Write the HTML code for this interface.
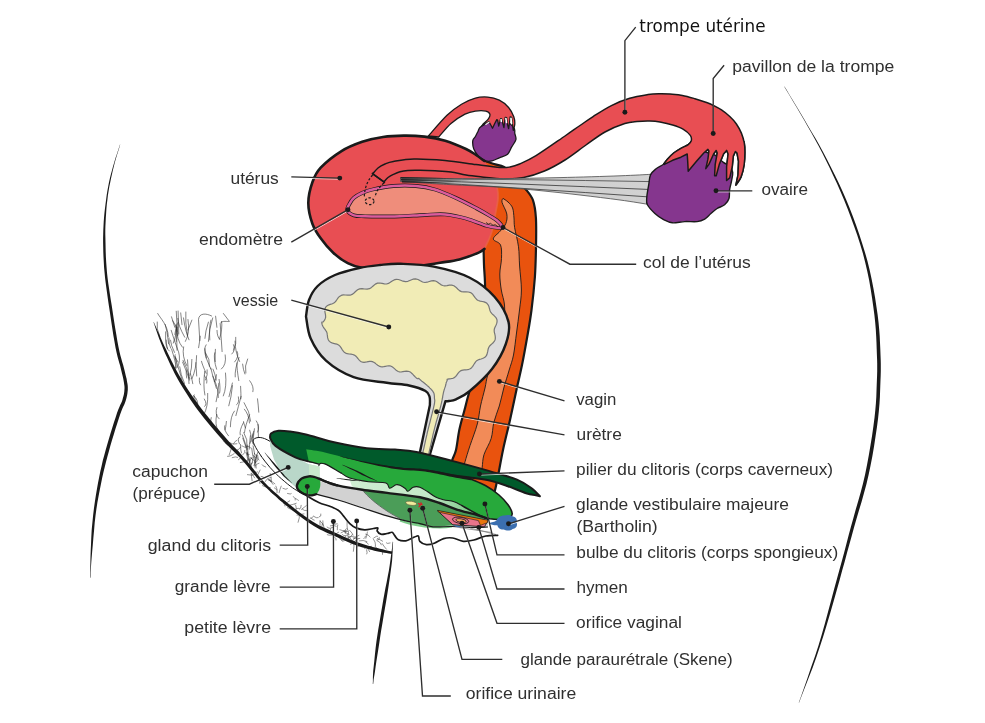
<!DOCTYPE html>
<html lang="fr"><head><meta charset="utf-8"><title>Anatomie</title>
<style>html,body{margin:0;padding:0;background:#fff}svg{display:block}</style></head>
<body><div style="will-change:transform;width:985px;height:723px"><svg width="985" height="723" viewBox="0 0 985 723">
<rect width="985" height="723" fill="#fff"/>
<path d="M120.0,144.6L119.2,146.9L118.2,150.1L116.9,154.0L115.5,158.1L114.2,162.4L113.0,166.4L112.0,170.3L110.9,174.2L109.9,178.2L109.0,182.3L108.2,186.4L107.4,190.7L106.7,195.1L106.1,199.7L105.5,204.3L104.9,209.0L104.4,213.5L104.0,217.9L103.7,222.1L103.5,226.1L103.3,230.0L103.2,234.0L103.1,238.1L103.1,242.5L103.2,247.2L103.3,252.1L103.5,257.2L103.8,262.4L104.1,267.7L104.6,273.0L105.1,278.3L105.8,283.7L106.5,289.1L107.3,294.7L108.1,300.5L109.0,306.5L110.0,313.1L111.1,320.4L112.2,327.8L113.3,335.1L114.5,341.8L115.5,347.6L116.5,352.3L117.5,356.4L118.4,359.8L119.3,362.9L120.1,365.6L120.8,368.4L121.4,371.0L122.0,373.4L122.5,375.6L123.0,377.6L123.4,379.5L123.7,381.3L124.0,383.0L124.2,384.5L124.4,385.8L124.5,387.1L124.5,388.4L124.4,389.9L124.3,391.4L124.1,393.0L123.8,394.7L123.4,396.3L122.9,398.1L122.4,400.0L121.8,401.7L121.1,403.3L120.2,405.1L119.3,407.2L118.2,409.8L117.0,413.1L115.6,417.4L113.9,422.4L112.2,427.9L110.4,433.7L108.7,439.5L107.1,445.0L105.6,450.3L104.2,455.5L102.8,460.6L101.6,465.9L100.3,471.4L99.2,477.1L98.0,483.1L96.9,489.3L95.8,495.7L94.8,502.2L93.9,508.8L93.1,515.5L92.4,522.4L91.7,529.8L91.3,537.3L91.0,544.6L90.7,551.2L90.5,557.0L90.4,561.9L90.3,566.2L90.3,569.9L90.3,573.1L90.3,575.7L90.3,577.7L90.7,577.7L90.8,575.7L90.8,573.1L90.9,569.9L91.0,566.2L91.3,561.9L91.7,557.0L92.2,551.3L92.8,544.7L93.4,537.5L94.1,530.0L94.7,522.7L95.5,515.7L96.4,509.1L97.4,502.6L98.6,496.1L99.8,489.8L101.0,483.7L102.2,477.7L103.5,472.1L104.8,466.7L106.1,461.5L107.5,456.3L108.9,451.2L110.3,446.0L111.9,440.5L113.7,434.7L115.4,428.9L117.2,423.4L118.8,418.5L120.2,414.3L121.4,411.0L122.4,408.5L123.3,406.5L124.2,404.7L124.9,403.0L125.6,401.0L126.2,399.0L126.7,397.1L127.1,395.3L127.4,393.5L127.6,391.8L127.8,390.1L127.8,388.5L127.8,387.0L127.7,385.5L127.5,384.0L127.2,382.4L126.9,380.7L126.6,378.8L126.1,376.9L125.6,374.9L125.1,372.7L124.5,370.3L123.8,367.6L123.1,364.8L122.2,362.0L121.4,359.0L120.4,355.6L119.5,351.7L118.5,347.0L117.4,341.3L116.3,334.6L115.1,327.4L113.9,319.9L112.8,312.7L111.8,306.1L110.8,300.1L109.9,294.3L109.1,288.8L108.3,283.4L107.6,278.1L107.0,272.8L106.6,267.5L106.2,262.3L105.9,257.1L105.7,252.0L105.6,247.2L105.5,242.5L105.4,238.1L105.3,234.0L105.3,230.1L105.4,226.2L105.6,222.2L105.8,218.1L106.1,213.7L106.4,209.1L106.8,204.5L107.4,199.8L107.9,195.3L108.6,190.9L109.3,186.7L110.2,182.5L111.0,178.4L111.9,174.4L112.8,170.5L113.8,166.6L114.8,162.5L116.0,158.3L117.3,154.1L118.5,150.2L119.5,147.0L120.2,144.6Z" fill="#1a1a1a"/>
<path d="M784.3,86.7L786.4,90.2L789.3,95.1L792.8,100.9L796.6,107.2L800.4,113.7L804.1,120.0L807.6,126.2L811.2,132.6L814.8,139.1L818.5,145.8L822.2,152.7L825.8,160.0L829.5,167.6L833.2,175.5L837.0,183.6L840.7,191.9L844.2,200.3L847.6,208.8L850.9,217.4L854.1,226.2L857.2,235.1L860.1,244.0L862.8,253.0L865.1,261.9L867.2,270.9L869.1,280.1L870.7,289.2L872.1,298.2L873.3,306.8L874.4,314.9L875.2,322.5L875.8,329.6L876.2,336.5L876.5,342.9L876.7,349.0L876.9,354.7L877.1,359.6L877.2,363.7L877.2,367.4L877.2,371.1L877.1,375.1L876.9,379.9L876.7,385.3L876.5,391.0L876.3,396.9L875.9,403.3L875.3,410.3L874.5,417.8L873.4,426.2L872.1,435.5L870.5,445.3L868.8,455.3L867.0,465.1L865.1,474.5L863.0,483.4L860.7,492.2L858.3,500.8L855.8,509.3L853.4,517.9L851.0,526.6L848.7,535.1L846.5,543.5L844.3,551.9L842.0,560.4L839.5,569.4L836.9,578.9L834.1,589.3L831.1,600.4L828.0,611.9L824.9,623.5L821.7,634.8L818.5,645.5L815.0,656.2L811.1,667.3L807.4,678.2L803.9,688.2L801.0,696.6L798.8,702.6L799.0,702.8L801.3,696.7L804.5,688.4L808.4,678.6L812.6,667.8L816.5,656.8L820.1,646.1L823.5,635.4L827.0,624.1L830.4,612.6L833.7,601.1L836.8,590.1L839.7,579.7L842.3,570.1L844.8,561.2L847.1,552.6L849.4,544.3L851.7,535.9L854.0,527.4L856.5,518.8L859.0,510.3L861.6,501.7L864.0,493.1L866.4,484.3L868.5,475.3L870.5,465.8L872.4,455.9L874.1,445.9L875.6,436.0L877.0,426.7L878.1,418.2L878.9,410.6L879.5,403.6L879.9,397.1L880.1,391.1L880.3,385.4L880.5,380.1L880.7,375.3L880.8,371.2L880.8,367.4L880.8,363.6L880.7,359.5L880.5,354.5L880.3,348.9L880.0,342.8L879.7,336.3L879.2,329.4L878.5,322.1L877.6,314.5L876.4,306.4L875.1,297.7L873.5,288.7L871.7,279.5L869.7,270.3L867.5,261.3L865.0,252.4L862.2,243.4L859.3,234.4L856.2,225.4L852.9,216.6L849.6,208.0L846.1,199.5L842.4,191.1L838.6,182.8L834.7,174.8L830.8,166.9L827.0,159.4L823.2,152.2L819.4,145.3L815.6,138.6L811.8,132.2L808.1,125.9L804.5,119.8L800.8,113.5L796.9,107.0L793.1,100.7L789.6,94.9L786.7,90.1L784.5,86.5Z" fill="#1a1a1a"/>
<path d="M186.7,378.0Q185.7,371.2 186.5,369.8M196.8,403.5Q195.0,401.6 194.3,395.8M177.0,350.2Q176.4,341.5 177.3,327.1M219.8,339.5Q217.1,336.9 217.0,330.4M206.2,358.1Q203.1,348.8 206.1,344.8M215.2,361.6Q215.0,354.3 215.4,349.3M250.0,443.4Q252.5,438.2 249.7,430.2M245.8,373.0Q244.3,366.0 247.6,359.0M204.9,338.4Q205.3,331.4 208.4,322.1M235.9,415.6Q238.3,406.9 241.1,396.3M208.4,341.4Q209.1,329.0 212.7,317.9M213.8,425.9Q209.4,423.4 211.2,417.6M178.2,351.0Q174.3,340.9 171.2,330.3M261.7,455.8Q260.3,453.8 260.8,447.1M250.4,466.1Q249.5,462.9 248.7,458.7M174.7,369.5Q177.9,364.0 174.7,356.2M236.6,404.7Q239.5,403.0 238.4,396.9M239.5,443.9Q236.6,437.9 239.9,437.0M178.0,362.0Q174.1,356.0 175.1,354.7M184.5,383.5Q180.4,374.2 179.7,366.8M189.0,383.6Q188.2,369.2 187.5,359.8M182.4,347.2Q176.3,339.7 176.8,326.9M204.5,406.4Q207.8,404.9 204.3,399.0M225.1,429.8Q226.0,427.2 226.4,421.4M191.9,378.8Q196.4,369.1 196.6,355.6M228.5,435.8Q223.3,429.5 224.7,425.7M221.4,369.0Q226.7,364.7 225.2,354.9M192.8,383.7Q192.5,381.1 190.4,373.6M247.3,449.8Q245.9,444.8 242.3,434.9M252.1,441.7Q251.5,439.6 253.3,433.8M256.1,468.1Q254.7,457.9 257.9,452.2M231.8,354.0Q236.0,350.3 233.5,344.7M214.5,381.7Q216.5,378.4 216.5,374.7M255.2,462.8Q251.7,454.2 251.7,448.2M209.5,366.4Q210.3,358.8 205.5,352.9M229.0,396.7Q230.7,390.0 232.4,383.0M197.8,405.8Q198.0,399.1 194.1,396.4M240.9,398.8Q241.1,394.3 240.6,386.3M198.6,347.7Q199.5,342.3 200.3,336.2M258.5,438.6Q258.3,432.7 258.0,424.5M223.3,395.9Q227.0,387.1 225.5,373.0M210.8,369.1Q205.1,358.5 204.8,348.7M173.3,343.1Q177.5,331.9 176.1,324.9M244.5,432.5Q245.1,426.3 249.6,414.6M216.4,388.4Q213.1,378.3 210.8,368.0M189.5,380.1Q186.4,370.8 182.6,362.1M177.9,335.5Q178.7,329.8 172.7,320.7M251.5,468.1Q250.3,463.2 252.3,462.8M252.9,391.7Q254.2,386.6 249.7,380.7M218.2,430.4Q214.5,425.0 216.7,414.4M250.6,421.2Q249.9,411.6 244.1,402.7M216.3,380.1Q214.8,373.0 213.0,369.1M170.7,348.2Q168.5,344.6 169.0,337.9M206.1,373.3Q202.1,364.4 201.5,361.3M240.2,434.9Q239.1,430.7 243.4,422.7M219.6,393.1Q220.7,389.1 219.1,379.4M238.8,380.6Q236.8,369.1 236.9,362.9M169.3,351.0Q164.9,347.6 166.3,340.1M254.6,454.0Q253.6,447.9 253.1,445.8M204.9,395.0Q203.0,386.0 204.7,371.4M196.7,376.0Q196.3,367.5 195.9,362.6M195.0,403.2Q191.3,396.1 194.1,394.7M189.8,375.3Q192.0,368.7 191.9,359.4M247.7,455.2Q246.8,447.6 242.8,438.2M219.5,339.1Q222.7,328.2 221.6,321.5M228.8,405.8Q231.2,398.0 232.5,385.6M245.4,427.9Q243.5,422.4 243.5,421.6M249.3,449.2Q249.8,439.4 250.4,435.7M253.0,443.9Q250.4,439.0 253.8,431.2M176.2,368.1Q175.6,361.5 171.6,349.2M216.1,401.7Q218.3,393.3 218.8,383.2M168.6,343.8Q167.4,331.2 165.2,324.4M176.2,341.4Q175.5,332.2 177.7,322.7M218.3,397.6Q219.0,389.4 212.9,376.1M187.5,335.4Q185.0,322.0 185.8,312.0M251.3,464.4Q254.4,458.9 251.2,457.8M247.0,447.0Q248.2,439.7 243.8,432.6M159.8,336.5Q156.0,328.3 157.2,322.0M235.2,376.9Q234.5,369.8 239.0,357.5M257.6,432.1Q260.4,427.0 256.3,420.9M206.7,383.1Q207.8,378.1 204.3,375.7M250.0,463.0Q247.8,460.4 247.3,452.2M260.8,455.9Q263.3,449.2 265.1,439.8M209.8,339.9Q208.9,327.3 210.9,320.1M247.7,461.8Q248.6,460.2 246.1,452.8M216.6,369.2Q213.3,358.9 214.7,352.8M234.7,361.9Q239.4,356.4 237.2,351.5M174.5,352.4Q170.7,344.9 170.5,340.2M258.8,412.2Q258.3,404.7 257.5,398.8M182.1,380.0Q178.8,369.6 175.3,357.6M241.4,452.9Q240.6,451.5 240.5,444.5M259.1,451.0Q262.2,448.0 259.7,445.3M203.8,414.6Q208.3,406.9 207.7,393.4M177.3,367.5Q181.1,361.0 178.6,351.7M249.5,423.0Q248.9,414.5 244.4,409.2M257.3,460.9Q257.6,458.8 256.0,454.4M167.5,348.6Q164.6,340.8 165.6,331.8M174.9,334.5Q178.3,322.7 176.3,311.2M186.8,365.6Q181.8,356.3 183.6,346.9M230.4,426.8Q230.5,416.1 234.4,411.1M205.5,380.0Q208.0,374.9 207.2,369.8M239.6,361.5Q235.3,352.9 235.0,341.1M244.9,374.0Q243.2,370.0 242.6,364.1M250.1,464.9Q248.6,458.6 252.2,457.7M185.4,341.4Q190.2,333.0 188.0,319.5M189.9,378.8Q187.6,368.8 183.0,360.3M200.7,385.0Q199.0,384.2 199.4,378.0M233.5,350.2Q236.9,343.4 235.8,337.3M189.0,339.8Q185.3,331.3 183.5,317.9M184.7,337.2Q178.0,325.2 177.8,318.4M250.1,460.9Q247.3,455.7 247.7,445.0M219.1,418.8Q214.5,414.7 216.9,407.5M258.8,460.4Q258.0,460.5 257.6,455.2M254.1,465.6Q256.9,458.7 253.6,455.6M253.8,444.6Q252.9,435.6 254.4,428.7" fill="none" stroke="#222" stroke-width="0.7" stroke-linecap="round" opacity="0.8"/>
<path d="M157.7,313.5C160,318 168,325 168.3,336.5M171.5,316.8L174.8,327.3M178.1,311L178.8,334M180.7,312.9L182,324.7M191.9,320.1L188,330M199.8,340.5L198.5,319.5C199,313 206,313 211.6,316M215.6,316.2L216.9,327.3M222.1,351.6L220.2,323.4C222,320 228,322 229.4,321.4L223.4,313.5" fill="none" stroke="#222" stroke-width="0.7" stroke-linecap="round" opacity="0.8"/>
<path d="M336.2,526.2Q332.8,524.6 330.3,525.8M344.2,540.9Q342.0,542.3 341.2,539.8M262.0,464.8Q262.2,465.9 265.7,467.0M353.9,543.3Q353.7,542.7 350.4,544.2M376.9,540.5Q380.5,541.9 381.5,544.9M382.7,550.2Q382.4,551.0 382.5,554.4M294.2,511.1Q290.2,508.9 287.6,507.6M299.7,509.1Q301.1,509.2 301.2,505.3M251.2,473.4Q251.4,476.5 252.1,480.7M312.4,522.9Q312.4,520.7 309.8,521.0M247.3,460.3Q242.8,462.5 240.3,462.6M227.7,445.1Q224.4,442.5 223.4,441.0M262.5,485.7Q267.3,488.3 270.3,487.6M236.8,440.2Q235.6,440.3 233.4,443.8M242.0,445.9Q243.0,446.6 247.3,448.1M378.4,550.8Q376.3,547.6 375.1,546.2M313.4,516.2Q316.8,518.6 318.2,517.8M348.0,537.2Q351.2,535.9 355.4,537.0M343.1,538.2Q344.1,538.6 345.6,536.5M345.3,533.5Q344.2,529.3 346.0,528.7M268.5,479.8Q272.2,481.3 274.9,483.8M367.2,547.7Q367.1,548.0 369.6,551.7M340.9,532.8Q343.2,530.6 347.8,531.4M245.6,446.0Q249.9,446.4 250.7,447.7M273.1,484.4Q270.9,480.6 267.8,479.3M359.6,545.2Q358.0,546.0 356.3,547.6M256.9,477.2Q257.3,475.2 260.1,470.0M240.7,447.1Q238.8,450.0 237.2,450.1M320.1,520.7Q319.6,522.4 320.1,525.2M368.2,544.1Q367.0,542.0 365.9,542.0M359.0,535.3Q354.4,536.8 353.3,539.5M332.4,535.1Q328.0,535.5 327.2,534.8M255.2,457.8Q253.1,456.6 254.4,453.3M339.8,529.8Q341.5,530.8 346.7,530.9M255.3,474.3Q253.2,476.1 247.4,474.7M275.9,486.1Q277.9,489.8 277.1,492.6M299.3,515.0Q300.0,517.2 298.1,522.3M370.2,537.0Q368.4,534.5 365.7,534.1M334.2,536.7Q337.0,539.1 336.3,540.1M337.0,536.0Q339.8,538.8 342.2,540.6M337.3,523.9Q335.4,525.1 332.0,523.2M306.3,505.6Q305.1,506.6 301.5,509.4M337.3,529.8Q337.3,526.1 337.7,525.0M240.6,454.5Q241.5,458.6 238.6,459.7M322.8,520.8Q322.6,524.7 324.0,527.5M348.6,536.0Q350.0,539.3 353.6,541.5M231.0,449.5Q230.1,452.4 229.1,455.0M347.2,534.2Q348.5,537.0 348.9,539.9M259.9,483.5Q258.8,478.4 258.0,476.7M270.8,477.6Q267.0,477.6 265.2,481.6M382.6,541.2Q380.3,539.8 377.3,538.4M365.6,546.1Q369.3,546.8 372.8,548.2M294.2,511.0Q297.6,514.0 300.2,515.7M281.2,500.8Q279.7,500.1 278.1,498.3M276.8,490.2Q277.6,490.0 274.4,487.9M363.8,538.7Q365.6,537.3 365.5,536.2M354.0,543.3Q354.2,545.8 353.4,551.3M306.4,510.6Q304.1,511.0 302.4,509.2M373.8,537.9Q377.4,535.3 377.8,536.0M366.6,549.8Q367.7,553.7 366.9,554.1M321.6,528.7Q319.2,528.7 317.7,525.8M375.6,545.6Q375.8,542.0 373.3,538.8M295.2,504.5Q296.3,505.0 296.3,508.9M270.8,491.7Q273.8,492.1 273.3,493.7M269.1,479.3Q270.7,478.6 271.1,481.7M249.1,454.6Q247.1,454.9 246.3,452.8M377.0,539.9Q379.8,540.5 379.3,537.5M253.8,471.3Q257.6,473.3 257.8,472.1M256.2,461.2Q253.9,462.6 254.8,467.2M285.2,501.4Q284.4,505.4 284.8,506.0M244.9,450.4Q245.7,452.6 242.8,454.8M313.0,516.8Q311.4,518.7 310.3,518.4M330.1,528.4Q329.5,529.0 327.1,527.1M386.3,543.0Q387.0,544.1 390.1,543.0M237.7,457.3Q236.1,456.2 232.2,457.6M366.9,541.5Q363.4,539.8 359.2,540.8M293.4,496.5Q296.2,499.3 295.5,500.1M365.9,538.3Q367.1,534.6 367.4,532.0M347.3,529.0Q346.9,525.9 347.1,521.6M335.2,534.6Q336.9,532.8 338.7,532.1M298.5,500.4Q297.7,499.8 295.5,498.4M237.5,450.3Q240.2,452.8 240.1,454.1M321.5,529.0Q322.2,525.0 322.3,523.9M359.8,538.5Q355.7,539.4 353.4,538.2M271.5,481.3Q271.3,476.8 270.2,473.5M295.7,509.2Q298.5,507.3 299.6,508.6M253.3,471.7Q253.6,472.4 255.5,474.7M307.2,520.0Q308.5,521.5 312.1,523.9M234.2,453.6Q229.7,456.9 227.5,456.4M314.2,520.2Q312.3,520.0 311.2,517.9M353.1,535.1Q352.7,533.4 349.6,530.3M296.2,503.3Q292.5,504.7 290.2,505.1M259.0,463.1Q258.1,463.0 255.5,465.6M350.2,537.1Q351.2,536.6 352.2,534.7M282.9,488.4Q286.5,490.2 287.5,488.7M251.6,473.1Q254.2,477.3 254.6,477.9M371.5,546.3Q366.9,547.2 364.6,548.3M236.9,443.8Q233.0,445.1 229.8,442.8M291.4,493.8Q291.1,494.6 287.5,493.5M333.2,527.2Q329.9,526.9 330.1,530.0M349.2,534.5Q344.9,532.1 343.7,531.4M347.4,528.9Q349.2,531.2 348.5,534.4M286.6,504.9Q291.3,505.3 293.6,508.1M382.1,543.5Q384.9,547.7 386.4,549.2M346.5,535.7Q342.9,536.4 342.3,534.4M334.0,525.3Q334.2,525.2 332.9,521.3M279.1,492.8Q279.6,490.0 281.2,486.1M323.4,525.1Q322.4,522.6 320.1,521.2M319.3,516.9Q321.7,516.6 320.9,514.0M265.2,478.6Q263.8,476.3 261.1,476.3M250.3,457.7Q250.6,457.9 253.7,460.2M354.8,541.1Q357.5,538.7 357.9,538.9M254.5,462.5Q256.7,457.7 256.2,455.3M289.8,500.9Q288.3,502.4 283.6,503.4M304.0,513.9Q300.7,514.4 297.0,515.1" fill="none" stroke="#222" stroke-width="0.65" stroke-linecap="round" opacity="0.75"/>
<path d="M153.5,322.5L154.3,324.6L155.3,327.4L156.4,330.8L157.7,334.5L159.1,338.5L160.7,342.5L162.3,346.5L163.8,350.3L165.4,353.9L167.1,357.6L168.9,361.4L170.6,365.2L172.5,369.0L174.4,372.9L176.4,376.7L178.5,380.5L180.7,384.3L183.0,388.1L185.4,391.8L187.8,395.6L190.3,399.4L192.9,403.2L195.5,407.0L198.3,410.7L201.2,414.6L204.3,418.5L207.6,422.5L210.9,426.4L214.1,430.3L217.3,434.0L220.4,437.5L223.3,440.8L225.9,443.7L228.5,446.3L230.9,448.8L233.2,451.0L235.4,453.2L237.7,455.5L240.0,457.8L242.4,460.4L244.9,463.2L247.4,466.2L249.8,469.3L252.4,472.4L255.0,475.6L257.7,478.8L260.4,481.9L263.3,484.9L266.3,487.8L269.4,490.8L272.5,493.7L275.8,496.6L279.0,499.4L282.3,502.2L285.5,504.9L288.7,507.5L291.9,510.0L295.1,512.5L298.3,515.0L301.5,517.4L304.6,519.7L307.7,521.9L310.8,524.0L313.9,526.0L316.9,527.8L319.9,529.4L322.8,530.8L325.7,532.2L328.5,533.4L331.3,534.6L334.0,535.8L336.6,536.9L339.1,538.1L341.6,539.2L343.9,540.3L346.2,541.3L348.5,542.3L350.8,543.2L353.1,544.2L355.4,545.0L357.8,545.9L360.2,546.7L362.6,547.4L365.0,548.1L367.3,548.8L369.7,549.4L372.0,550.1L374.3,550.7L376.7,551.2L379.2,551.8L381.8,552.2L384.3,552.7L386.6,553.1L388.7,553.5L390.5,553.8L391.8,554.1L392.4,551.5L391.0,551.2L389.3,550.9L387.2,550.4L384.9,549.9L382.4,549.3L379.9,548.7L377.4,548.1L375.1,547.5L372.8,547.0L370.5,546.3L368.2,545.7L365.9,545.0L363.5,544.3L361.2,543.6L358.9,542.8L356.6,542.0L354.3,541.1L352.0,540.2L349.8,539.2L347.6,538.3L345.3,537.2L342.9,536.2L340.5,535.0L338.0,533.9L335.4,532.7L332.7,531.5L329.9,530.3L327.1,529.1L324.3,527.8L321.4,526.4L318.5,524.9L315.5,523.2L312.5,521.4L309.5,519.4L306.4,517.3L303.2,515.0L300.0,512.7L296.8,510.3L293.6,507.8L290.5,505.3L287.3,502.7L284.0,500.1L280.7,497.4L277.5,494.6L274.2,491.8L271.1,488.9L268.0,486.0L265.1,483.1L262.3,480.1L259.7,477.0L257.1,473.8L254.6,470.6L252.2,467.5L249.7,464.3L247.2,461.3L244.8,458.4L242.4,455.7L240.1,453.2L237.9,450.8L235.7,448.5L233.4,446.2L231.1,443.8L228.7,441.2L226.1,438.2L223.3,435.0L220.2,431.5L217.0,427.8L213.8,424.0L210.5,420.0L207.3,416.1L204.2,412.2L201.3,408.5L198.5,404.8L195.8,401.1L193.2,397.4L190.7,393.7L188.2,390.0L185.8,386.3L183.5,382.6L181.3,378.9L179.1,375.2L177.0,371.5L175.0,367.7L173.1,364.0L171.2,360.3L169.4,356.6L167.7,352.9L166.0,349.3L164.2,345.7L162.4,341.8L160.7,337.8L159.1,334.0L157.4,330.4L156.0,327.1L154.8,324.4L153.9,322.3Z" fill="#1a1a1a"/>
<path d="M392.7,541.8L392.4,544.2L392.1,547.4L391.6,551.3L391.0,555.7L390.4,560.3L389.7,565.2L388.9,570.4L387.8,576.0L386.7,582.0L385.4,588.2L384.3,594.3L383.2,600.3L382.2,606.2L381.2,612.1L380.2,618.0L379.2,623.9L378.2,629.8L377.3,635.7L376.4,641.8L375.6,648.3L374.9,654.8L374.3,661.0L373.7,666.5L373.2,671.1L373.0,674.7L372.9,677.6L372.9,679.8L372.9,681.5L372.8,682.9L372.8,684.0L373.2,684.0L373.3,682.9L373.5,681.5L373.6,679.8L373.9,677.7L374.4,674.9L375.0,671.3L375.6,666.7L376.4,661.2L377.4,655.1L378.4,648.7L379.4,642.3L380.3,636.1L381.2,630.3L382.2,624.4L383.2,618.5L384.2,612.6L385.2,606.7L386.2,600.9L387.2,594.8L388.2,588.6L389.1,582.4L390.0,576.4L390.8,570.6L391.5,565.4L392.1,560.5L392.4,555.8L392.6,551.4L392.8,547.5L393.0,544.2L393.1,541.8Z" fill="#1a1a1a"/>
<path d="M484.0,160.8C485.7,161.3 490.7,163.0 494.0,164.0C497.3,165.0 501.0,165.3 504.0,167.0C507.0,168.7 509.2,171.1 512.0,174.0C514.8,176.9 518.7,182.0 521.0,184.5C523.3,187.0 523.6,186.4 525.6,189.0C527.6,191.6 531.3,195.5 533.0,200.3C534.7,205.1 535.4,210.1 535.9,217.8C536.4,225.6 536.2,236.9 536.0,246.8C535.8,256.7 535.6,266.5 534.9,277.0C534.1,287.5 532.7,300.7 531.5,310.0C530.3,319.3 529.5,323.8 527.9,333.0C526.3,342.2 523.9,355.8 522.0,365.0C520.1,374.2 518.8,379.1 516.8,388.3C514.8,397.5 512.3,409.7 510.0,420.0C507.7,430.3 505.5,438.3 503.0,450.0C500.5,461.7 497.2,482.0 495.0,490.3C492.8,498.6 490.8,498.4 490.0,500.0L450,470C450.4,468.4 451.2,463.5 452.2,460.2C453.2,456.9 454.8,455.0 456.0,450.0C457.2,445.0 457.9,436.7 459.3,430.0C460.7,423.3 462.8,416.5 464.5,410.0C466.2,403.5 467.5,397.7 469.6,391.0C471.7,384.3 474.8,378.5 477.0,370.0C479.2,361.5 481.7,350.0 483.0,340.0C484.3,330.0 484.7,319.5 485.0,310.0C485.3,300.5 485.2,290.5 485.0,283.0C484.8,275.5 484.2,270.5 484.0,265.0C483.8,259.5 483.8,257.5 483.6,250.0C483.4,242.5 483.1,230.0 483.0,220.0C482.9,210.0 482.8,199.9 483.0,190.0C483.2,180.1 483.8,165.7 484.0,160.8Z" fill="#e9530e" stroke="#1a1a1a" stroke-width="2.2" stroke-linejoin="round"/>
<path d="M503.0,198.4C502.8,199.1 501.4,199.7 502.0,202.3C502.6,204.9 506.2,210.4 506.8,214.0C507.4,217.6 506.9,220.7 505.8,223.6C504.7,226.5 502.1,228.7 500.0,231.3C497.9,233.9 493.2,236.7 493.3,239.0C493.4,241.3 499.1,241.7 500.5,244.9C501.9,248.1 501.6,253.5 501.5,258.4C501.4,263.2 499.8,268.7 499.8,274.0C499.8,279.3 500.5,284.8 501.3,290.0C502.1,295.2 504.1,299.7 504.5,305.0C504.9,310.3 504.9,316.2 504.0,322.0C503.1,327.8 500.7,334.2 499.0,340.0C497.3,345.8 495.9,351.1 494.0,357.0C492.1,362.9 489.1,370.2 487.6,375.4C486.1,380.6 486.2,382.9 485.0,388.0C483.8,393.1 481.8,400.0 480.5,406.0C479.2,412.0 479.1,417.4 477.3,424.0C475.6,430.6 472.1,439.3 470.0,445.6C467.9,451.9 466.2,457.7 465.0,461.8C463.8,465.9 463.3,468.6 463.0,470.0L481,474C481.2,472.9 481.7,470.4 482.2,467.2C482.7,464.0 482.5,459.4 484.0,454.6C485.5,449.8 489.6,443.8 491.2,438.4C492.8,433.0 492.5,427.6 493.9,422.2C495.2,416.8 497.6,411.7 499.3,406.0C501.0,400.3 502.2,394.0 503.8,388.0C505.4,382.0 507.6,375.5 509.2,370.0C510.8,364.5 512.3,361.2 513.5,355.0C514.7,348.8 515.5,340.5 516.5,333.0C517.5,325.5 518.7,317.2 519.5,310.0C520.3,302.8 521.4,297.3 521.4,290.0C521.4,282.7 520.1,273.2 519.6,266.0C519.1,258.8 519.3,253.2 518.5,246.8C517.7,240.4 515.4,232.3 514.6,227.5C513.9,222.7 514.3,221.2 514.0,218.0C513.7,214.8 513.6,210.7 512.6,208.0C511.6,205.3 509.6,203.6 508.0,202.0C506.4,200.4 503.8,199.0 503.0,198.4Z" fill="#f28b58" stroke="#1a1a1a" stroke-width="0.9" stroke-linejoin="round"/>
<path d="M481.6,126.1C477.9,128.3 479.0,129.8 478.0,131.5C477.0,133.2 476.3,135.0 475.4,136.5C474.5,138.0 473.1,138.6 472.8,140.7C472.5,142.8 472.9,146.4 473.8,149.0C474.8,151.6 476.5,154.2 478.5,156.2C480.5,158.2 483.6,160.1 485.8,160.9C488.1,161.7 489.8,161.4 492.0,160.9C494.2,160.4 496.7,158.9 499.3,157.8C501.9,156.7 505.5,156.0 507.6,154.2C509.7,152.4 510.3,149.3 511.7,146.9C513.1,144.5 515.4,141.8 515.9,139.6C516.4,137.3 515.2,135.5 514.8,133.4C514.4,131.3 515.8,129.6 513.3,127.0C510.8,124.4 505.3,118.2 500.0,118.0C494.7,117.8 485.3,123.8 481.6,126.1Z" fill="#85368e" stroke="#1a1a1a" stroke-width="1.3"/>
<path d="M428.3,136.0C431.4,132.6 441.5,120.6 447.0,115.3C452.5,110.0 456.8,107.2 461.5,104.3C466.2,101.4 471.0,99.3 475.4,98.1C479.8,96.9 483.8,96.8 487.8,97.1C491.8,97.4 495.8,98.5 499.3,100.2C502.8,101.9 506.2,104.7 508.6,107.5C511.0,110.3 512.8,114.0 513.8,116.8C514.8,119.6 514.9,121.8 514.8,124.1C514.7,126.3 513.5,129.3 513.3,130.3L512.4,124.0L511.6,117.4L510.2,116.8L509.6,122.0L508.6,128.7L507.4,124.0L506.6,117.6L505.2,117.3L504.6,122.0L503.9,127.7L502.4,122.0L501.6,118.6L500.6,118.6L499.8,122.0L498.7,126.1L497.6,120.0L496.8,119.6L494.5,124.0L492.5,128.2L490.8,125.0L488.9,121.5L485.0,124.0L481.6,126.1C482.0,125.7 482.6,124.7 483.7,123.5C484.8,122.3 487.4,120.5 488.4,118.9C489.4,117.4 490.3,115.5 489.9,114.2C489.5,112.9 488.2,111.6 485.8,111.1C483.4,110.6 478.9,110.6 475.4,111.1C471.9,111.6 469.1,112.1 465.0,114.2C460.9,116.3 455.4,119.7 451.0,123.5C446.6,127.3 440.8,134.8 438.7,137.0Z" fill="#e84e53" stroke="#1a1a1a" stroke-width="1.3" stroke-linejoin="round"/>
<path d="M511,118.2L511.6,123.6M505.9,118.4L506.5,122.6M501.1,119.4L501.3,121.4" fill="none" stroke="#fff" stroke-width="1.5" stroke-linecap="round"/>
<path d="M485.8,124.4L489,122.2" fill="none" stroke="#eee" stroke-width="1.2" stroke-linecap="round"/>
<path d="M484.5,248.8C483.5,249.4 482.9,250.8 478.7,252.6C474.5,254.4 465.8,257.7 459.4,259.4C452.9,261.1 446.6,261.7 440.0,262.8C433.4,263.9 427.2,264.9 420.0,265.8C412.8,266.7 403.7,267.5 397.0,268.0C390.3,268.5 385.8,268.6 380.0,268.6C374.2,268.6 367.4,268.7 362.0,267.8C356.6,266.9 352.5,265.7 347.7,263.2C342.9,260.7 337.7,256.9 333.2,252.8C328.7,248.7 324.2,243.2 320.7,238.3C317.2,233.5 314.5,229.6 312.4,223.7C310.3,217.8 308.3,209.9 308.3,203.0C308.3,196.1 310.3,188.1 312.4,182.2C314.5,176.3 315.8,172.9 320.7,167.7C325.6,162.5 334.6,155.4 341.5,151.1C348.4,146.8 355.3,144.2 362.2,141.8C369.1,139.5 376.1,138.0 383.0,137.0C389.9,136.0 396.8,135.7 403.7,135.6C410.6,135.5 417.6,135.8 424.5,136.6C431.4,137.4 438.3,138.6 445.2,140.7C452.1,142.8 460.9,146.6 466.0,149.0C471.1,151.4 472.9,153.0 476.0,155.0C479.1,157.0 482.9,160.0 484.3,161.0C485.6,162.8 489.9,167.7 492.0,172.0C494.1,176.3 496.0,182.4 497.0,186.8C498.0,191.2 498.3,193.6 498.0,198.4C497.7,203.2 496.1,210.0 495.0,215.8C493.9,221.6 493.1,227.8 491.3,233.3C489.6,238.8 485.6,246.2 484.5,248.8Z" fill="#e84e53"/>
<path d="M492.0,172.0C492.8,174.5 496.0,182.4 497.0,186.8C498.0,191.2 498.3,193.6 498.0,198.4C497.7,203.2 496.1,210.0 495.0,215.8C493.9,221.6 493.1,227.8 491.3,233.3C489.6,238.8 485.6,246.2 484.5,248.8" fill="none" stroke="#ea6448" stroke-width="1.8" opacity="0.75"/>
<path d="M484.5,248.8C483.5,249.4 482.9,250.8 478.7,252.6C474.5,254.4 465.8,257.7 459.4,259.4C452.9,261.1 446.6,261.7 440.0,262.8C433.4,263.9 427.2,264.9 420.0,265.8C412.8,266.7 403.7,267.5 397.0,268.0C390.3,268.5 385.8,268.6 380.0,268.6C374.2,268.6 367.4,268.7 362.0,267.8C356.6,266.9 352.5,265.7 347.7,263.2C342.9,260.7 337.7,256.9 333.2,252.8C328.7,248.7 324.2,243.2 320.7,238.3C317.2,233.5 314.5,229.6 312.4,223.7C310.3,217.8 308.3,209.9 308.3,203.0C308.3,196.1 310.3,188.1 312.4,182.2C314.5,176.3 315.8,172.9 320.7,167.7C325.6,162.5 334.6,155.4 341.5,151.1C348.4,146.8 355.3,144.2 362.2,141.8C369.1,139.5 376.1,138.0 383.0,137.0C389.9,136.0 396.8,135.7 403.7,135.6C410.6,135.5 417.6,135.8 424.5,136.6C431.4,137.4 438.3,138.6 445.2,140.7C452.1,142.8 460.9,146.6 466.0,149.0C471.1,151.4 472.9,153.0 476.0,155.0C479.1,157.0 482.9,160.0 484.3,161.0" fill="none" stroke="#1a1a1a" stroke-width="2.6" stroke-linecap="round"/>
<path d="M347.3,210.2C346.6,208.1 348.9,205.1 350.0,203.0C351.1,200.9 352.0,199.5 354.0,197.8C356.0,196.1 358.9,194.4 362.0,193.0C365.1,191.6 367.4,190.7 372.6,189.5C377.8,188.3 386.2,186.6 393.4,186.0C400.6,185.4 409.1,185.4 416.0,186.0C422.9,186.6 428.3,187.5 434.9,189.5C441.5,191.5 448.7,194.7 455.6,197.8C462.5,200.9 470.6,205.2 476.3,208.2C482.0,211.2 486.6,213.9 490.0,216.0C493.4,218.1 495.0,218.8 497.0,220.5C499.0,222.2 501.7,225.3 502.0,226.5C502.3,227.7 501.6,228.0 499.0,227.9C496.4,227.8 492.2,227.4 486.7,225.8C481.2,224.2 472.9,220.4 466.0,218.5C459.1,216.6 451.9,215.0 445.0,214.4C438.1,213.8 432.0,214.7 424.5,215.0C417.0,215.3 406.9,216.1 400.0,216.3C393.1,216.6 388.8,216.5 383.0,216.5C377.2,216.5 369.8,216.5 365.0,216.3C360.2,216.1 356.9,216.4 354.0,215.4C351.1,214.4 348.0,212.3 347.3,210.2Z" fill="#ef8d7b" stroke="#1a1a1a" stroke-width="3.8"/>
<path d="M347.3,210.2C346.6,208.1 348.9,205.1 350.0,203.0C351.1,200.9 352.0,199.5 354.0,197.8C356.0,196.1 358.9,194.4 362.0,193.0C365.1,191.6 367.4,190.7 372.6,189.5C377.8,188.3 386.2,186.6 393.4,186.0C400.6,185.4 409.1,185.4 416.0,186.0C422.9,186.6 428.3,187.5 434.9,189.5C441.5,191.5 448.7,194.7 455.6,197.8C462.5,200.9 470.6,205.2 476.3,208.2C482.0,211.2 486.6,213.9 490.0,216.0C493.4,218.1 495.0,218.8 497.0,220.5C499.0,222.2 501.7,225.3 502.0,226.5C502.3,227.7 501.6,228.0 499.0,227.9C496.4,227.8 492.2,227.4 486.7,225.8C481.2,224.2 472.9,220.4 466.0,218.5C459.1,216.6 451.9,215.0 445.0,214.4C438.1,213.8 432.0,214.7 424.5,215.0C417.0,215.3 406.9,216.1 400.0,216.3C393.1,216.6 388.8,216.5 383.0,216.5C377.2,216.5 369.8,216.5 365.0,216.3C360.2,216.1 356.9,216.4 354.0,215.4C351.1,214.4 348.0,212.3 347.3,210.2Z" fill="none" stroke="#dc5c9c" stroke-width="2.5"/>
<path d="M486,222.5l2.5,1.6l2-0.8l2.5,2l2.2-0.6l2.8,2.2" fill="none" stroke="#1a1a1a" stroke-width="0.8"/>
<path d="M372.6,174.0C373.5,173.0 375.9,169.7 378.0,168.0C380.1,166.3 382.4,165.1 385.0,164.0C387.6,162.9 388.6,162.3 393.4,161.5C398.2,160.7 405.4,159.2 414.0,159.0C422.6,158.8 434.7,159.6 445.0,160.5C455.3,161.4 466.8,163.4 476.0,164.6C485.2,165.8 494.3,167.1 500.0,167.5C505.7,167.9 506.7,167.6 510.0,167.0C513.3,166.4 515.3,165.9 519.6,164.0C523.9,162.1 528.4,160.4 536.0,155.7C543.6,151.0 557.7,141.0 565.0,136.0C572.3,131.0 575.3,128.7 580.0,125.5C584.7,122.3 587.9,119.9 593.1,116.6C598.3,113.3 605.3,108.6 611.4,105.6C617.5,102.5 623.6,100.1 629.7,98.3C635.8,96.5 643.0,95.4 648.0,94.6C653.0,93.8 656.3,93.8 660.0,93.7C663.7,93.6 666.3,93.8 670.0,94.1C673.7,94.4 678.2,94.6 682.4,95.4C686.5,96.2 690.8,97.5 694.9,98.7C699.0,99.9 704.2,101.7 707.3,102.8C710.3,103.9 710.8,104.1 713.2,105.3C715.6,106.5 718.7,108.0 721.5,109.9C724.3,111.8 727.3,114.2 729.8,116.5C732.3,118.8 734.5,121.2 736.4,124.0C738.3,126.8 740.1,129.9 741.4,133.1C742.7,136.3 743.7,139.9 744.3,143.1C744.9,146.2 744.9,148.4 744.9,152.0C744.9,155.6 744.8,160.2 744.2,164.4C743.6,168.6 742.5,173.4 741.1,176.9C739.7,180.4 736.8,183.8 735.9,185.2L738.0,174.8L738.5,161.3L737.0,153.0L735.4,151.5L733.3,156.1L732.3,166.5L729.7,177.9L726.6,180.5L726.6,166.5L728.1,154.0L726.6,150.4L723.5,154.0L719.3,164.4L716.2,175.8L714.6,175.8L715.2,164.4L717.2,153.0L716.2,150.4L713.6,154.0L708.9,164.4L705.8,168.6L707.9,159.2L708.9,151.0L707.9,149.4L703.8,153.0L696.5,161.3L688.2,171.2L687.7,161.3L687.2,154.0L680.9,157.2L672.6,160.3L664.3,164.4L663.8,163.9C664.4,163.1 665.8,161.0 667.4,159.2C669.0,157.4 671.5,154.8 673.7,153.0C676.0,151.2 678.5,149.7 680.9,148.3C683.3,146.9 686.5,146.0 688.2,144.7C689.9,143.4 690.9,142.1 691.3,140.6C691.6,139.1 691.7,137.3 690.3,135.4C688.9,133.5 686.0,130.8 683.0,129.1C680.0,127.4 676.4,126.2 672.6,125.0C668.8,123.8 663.8,122.7 660.0,122.0C656.2,121.3 653.5,121.1 649.7,121.0C645.9,120.9 641.1,121.1 637.0,121.5C632.9,121.9 630.1,121.8 624.8,123.5C619.5,125.2 611.5,128.4 605.0,132.0C598.5,135.6 592.7,140.3 586.0,145.0C579.3,149.7 571.9,155.7 565.0,160.0C558.1,164.3 551.4,168.1 544.5,171.0C537.6,173.9 530.6,176.2 523.7,177.5C516.8,178.8 509.9,179.1 503.0,179.0C496.1,178.9 488.2,177.7 482.0,177.0C475.8,176.3 471.2,175.8 466.0,175.0C460.8,174.2 456.2,172.7 451.0,172.0C445.8,171.3 440.1,171.1 434.9,170.8C429.7,170.5 424.5,170.3 420.0,170.2C415.5,170.1 411.2,170.1 407.9,170.4C404.6,170.7 402.4,171.1 400.0,171.8C397.6,172.5 395.4,173.5 393.4,174.4C391.4,175.3 389.6,176.3 388.0,177.5C386.4,178.7 384.7,181.1 384.0,181.8Z" fill="#e84e53" stroke="#1a1a1a" stroke-width="1.5" stroke-linejoin="round"/>
<path d="M372.4,173.4L384.4,182.4" fill="none" stroke="#1a1a1a" stroke-width="1.6" stroke-linecap="round"/>
<path d="M372.6,175C367,181 364.5,189 364.3,197M384,183C379,187 376,192 375,197" fill="none" stroke="#1a1a1a" stroke-width="1.2" stroke-dasharray="2.4,1.8"/>
<ellipse cx="369.6" cy="201.2" rx="4.4" ry="3.4" fill="none" stroke="#1a1a1a" stroke-width="1.2" stroke-dasharray="2.4,1.8"/>
<linearGradient id="lig" x1="400" y1="0" x2="651" y2="0" gradientUnits="userSpaceOnUse"><stop offset="0" stop-color="#7a7a7a"/><stop offset="0.18" stop-color="#b4b4b4"/><stop offset="0.45" stop-color="#cdcdcd"/><stop offset="1" stop-color="#d2d2d2"/></linearGradient>
<path d="M400.6,177.5C408.8,177.7 433.4,178.4 450.0,178.6C466.6,178.8 481.7,178.8 500.0,178.6C518.3,178.4 540.0,178.1 560.0,177.6C580.0,177.1 604.8,176.4 620.0,175.8C635.2,175.2 645.8,174.6 651.0,174.3L651,204.8C645.8,204.0 631.8,201.6 620.0,200.0C608.2,198.4 593.3,196.6 580.0,195.0C566.7,193.4 553.3,191.9 540.0,190.6C526.7,189.3 515.0,188.2 500.0,187.2C485.0,186.2 466.6,185.5 450.0,184.6C433.4,183.7 408.8,182.0 400.6,181.5Z" fill="url(#lig)" stroke="#4a4a4a" stroke-width="0.8"/>
<path d="M402,178.8Q520,179.2 650,181.6" fill="none" stroke="#444" stroke-width="0.8"/>
<path d="M402,179.8Q520,183.7 650,189.5" fill="none" stroke="#444" stroke-width="0.9"/>
<path d="M402,180.8Q520,187.9 650,197.0" fill="none" stroke="#444" stroke-width="0.9"/>
<path d="M400.6,176.9L455,178.3L400.6,178.6ZM401,179L470,180.4L401,180.6ZM402,181L455,183L402,182.4Z" fill="#222"/>
<path d="M664.2,163.7C660.2,166.5 658.4,166.8 656.1,168.7C653.8,170.6 651.7,172.2 650.5,174.9C649.3,177.6 649.3,181.2 648.7,184.9C648.1,188.6 647.0,194.0 646.8,197.3C646.6,200.6 646.0,202.1 647.4,204.8C648.8,207.5 652.2,211.0 654.9,213.5C657.6,216.0 660.7,218.1 663.6,219.7C666.5,221.2 668.8,222.5 672.3,222.8C675.8,223.1 680.6,221.8 684.8,221.6C688.9,221.4 693.9,222.0 697.2,221.6C700.5,221.2 702.4,220.4 704.7,219.1C707.0,217.8 708.8,215.3 710.9,213.5C713.0,211.7 714.8,209.9 717.1,208.5C719.4,207.1 722.6,206.5 724.6,204.8C726.6,203.1 728.2,201.0 729.0,198.5C729.8,196.0 729.2,192.7 729.6,189.8C730.0,186.9 731.0,184.0 731.5,181.1C732.0,178.2 733.0,174.9 732.7,172.4C732.4,169.9 731.2,167.9 729.6,166.2C728.0,164.5 725.7,164.2 723.4,162.4C721.1,160.6 718.6,157.2 715.9,155.6C713.2,153.9 710.7,153.4 707.2,152.5C703.7,151.6 699.5,150.1 695.0,150.0C690.5,149.9 685.1,149.7 680.0,152.0C674.9,154.3 668.2,160.9 664.2,163.7Z" fill="#85368e" stroke="#1a1a1a" stroke-width="1.4"/>
<clipPath id="fc"><rect x="655" y="141" width="95" height="50"/></clipPath>
<path d="M372.6,174.0C373.5,173.0 375.9,169.7 378.0,168.0C380.1,166.3 382.4,165.1 385.0,164.0C387.6,162.9 388.6,162.3 393.4,161.5C398.2,160.7 405.4,159.2 414.0,159.0C422.6,158.8 434.7,159.6 445.0,160.5C455.3,161.4 466.8,163.4 476.0,164.6C485.2,165.8 494.3,167.1 500.0,167.5C505.7,167.9 506.7,167.6 510.0,167.0C513.3,166.4 515.3,165.9 519.6,164.0C523.9,162.1 528.4,160.4 536.0,155.7C543.6,151.0 557.7,141.0 565.0,136.0C572.3,131.0 575.3,128.7 580.0,125.5C584.7,122.3 587.9,119.9 593.1,116.6C598.3,113.3 605.3,108.6 611.4,105.6C617.5,102.5 623.6,100.1 629.7,98.3C635.8,96.5 643.0,95.4 648.0,94.6C653.0,93.8 656.3,93.8 660.0,93.7C663.7,93.6 666.3,93.8 670.0,94.1C673.7,94.4 678.2,94.6 682.4,95.4C686.5,96.2 690.8,97.5 694.9,98.7C699.0,99.9 704.2,101.7 707.3,102.8C710.3,103.9 710.8,104.1 713.2,105.3C715.6,106.5 718.7,108.0 721.5,109.9C724.3,111.8 727.3,114.2 729.8,116.5C732.3,118.8 734.5,121.2 736.4,124.0C738.3,126.8 740.1,129.9 741.4,133.1C742.7,136.3 743.7,139.9 744.3,143.1C744.9,146.2 744.9,148.4 744.9,152.0C744.9,155.6 744.8,160.2 744.2,164.4C743.6,168.6 742.5,173.4 741.1,176.9C739.7,180.4 736.8,183.8 735.9,185.2L738.0,174.8L738.5,161.3L737.0,153.0L735.4,151.5L733.3,156.1L732.3,166.5L729.7,177.9L726.6,180.5L726.6,166.5L728.1,154.0L726.6,150.4L723.5,154.0L719.3,164.4L716.2,175.8L714.6,175.8L715.2,164.4L717.2,153.0L716.2,150.4L713.6,154.0L708.9,164.4L705.8,168.6L707.9,159.2L708.9,151.0L707.9,149.4L703.8,153.0L696.5,161.3L688.2,171.2L687.7,161.3L687.2,154.0L680.9,157.2L672.6,160.3L664.3,164.4L663.8,163.9C664.4,163.1 665.8,161.0 667.4,159.2C669.0,157.4 671.5,154.8 673.7,153.0C676.0,151.2 678.5,149.7 680.9,148.3C683.3,146.9 686.5,146.0 688.2,144.7C689.9,143.4 690.9,142.1 691.3,140.6C691.6,139.1 691.7,137.3 690.3,135.4C688.9,133.5 686.0,130.8 683.0,129.1C680.0,127.4 676.4,126.2 672.6,125.0C668.8,123.8 663.8,122.7 660.0,122.0C656.2,121.3 653.5,121.1 649.7,121.0C645.9,120.9 641.1,121.1 637.0,121.5C632.9,121.9 630.1,121.8 624.8,123.5C619.5,125.2 611.5,128.4 605.0,132.0C598.5,135.6 592.7,140.3 586.0,145.0C579.3,149.7 571.9,155.7 565.0,160.0C558.1,164.3 551.4,168.1 544.5,171.0C537.6,173.9 530.6,176.2 523.7,177.5C516.8,178.8 509.9,179.1 503.0,179.0C496.1,178.9 488.2,177.7 482.0,177.0C475.8,176.3 471.2,175.8 466.0,175.0C460.8,174.2 456.2,172.7 451.0,172.0C445.8,171.3 440.1,171.1 434.9,170.8C429.7,170.5 424.5,170.3 420.0,170.2C415.5,170.1 411.2,170.1 407.9,170.4C404.6,170.7 402.4,171.1 400.0,171.8C397.6,172.5 395.4,173.5 393.4,174.4C391.4,175.3 389.6,176.3 388.0,177.5C386.4,178.7 384.7,181.1 384.0,181.8Z" fill="#e84e53" stroke="#1a1a1a" stroke-width="1.5" stroke-linejoin="round" clip-path="url(#fc)"/>
<path d="M306.0,316.4C306.5,313.7 307.1,305.1 309.0,300.0C310.9,294.9 313.4,290.2 317.7,286.0C322.0,281.8 328.1,278.0 335.0,275.0C341.9,272.0 351.7,269.7 359.2,268.0C366.7,266.3 373.1,265.7 380.0,265.0C386.9,264.3 391.7,263.5 400.7,263.8C409.7,264.1 422.3,264.3 433.8,266.6C445.3,268.9 459.7,272.6 469.8,277.7C479.9,282.8 488.2,289.6 494.7,297.0C501.1,304.4 506.6,314.1 508.5,321.9C510.4,329.7 508.6,336.1 505.8,344.0C503.1,351.9 498.0,361.2 492.0,369.0C486.0,376.8 475.8,385.9 469.8,391.0C463.8,396.1 459.5,397.6 456.0,399.3C452.5,401.0 450.8,400.7 449.0,401.0C447.2,401.3 446.0,401.2 445.4,401.3L428.9,458L418.7,458L429.9,404.9C429.8,403.6 430.3,399.3 429.6,397.0C428.9,394.7 428.9,392.9 425.5,391.0C422.1,389.1 415.4,386.9 409.0,385.5C402.6,384.1 396.0,384.2 386.8,382.8C377.6,381.4 363.7,380.9 353.6,377.2C343.5,373.5 333.1,367.1 326.0,360.7C318.9,354.2 314.0,345.9 310.7,338.5C307.4,331.1 306.8,320.1 306.0,316.4Z" fill="#dcdcdc" stroke="#1a1a1a" stroke-width="2.4" stroke-linejoin="round"/>
<path d="M323.2,322.0L323.8,321.2L324.5,320.2L325.1,318.9L325.6,317.5L325.6,315.9L325.4,314.1L325.0,312.3L324.8,310.4L325.0,308.7L325.7,307.2L326.8,306.1L328.1,305.3L329.5,304.6L331.0,304.2L332.4,303.7L333.8,303.0L334.9,302.2L336.0,301.0L337.0,299.5L338.1,297.9L339.5,296.4L341.2,295.4L343.2,294.9L345.4,295.0L347.8,295.2L350.1,295.2L352.1,294.4L354.0,293.0L355.8,291.3L357.6,289.8L359.6,288.9L362.0,288.7L364.5,289.0L367.1,289.1L369.4,288.7L371.5,287.4L373.4,285.7L375.3,284.1L377.5,283.1L379.7,283.0L382.1,283.4L384.4,283.9L386.5,284.0L388.5,283.4L390.3,282.3L392.2,281.0L394.1,279.9L396.2,279.3L398.4,279.5L400.7,280.3L403.0,281.2L405.4,281.7L407.9,281.3L410.4,280.2L412.9,279.2L415.5,278.8L418.0,279.5L420.3,280.8L422.6,282.0L424.9,282.5L427.1,282.2L429.3,281.5L431.4,280.9L433.5,280.6L435.5,281.0L437.3,282.0L439.0,283.3L440.8,284.6L442.6,285.5L444.7,285.8L447.0,285.6L449.4,285.2L451.7,285.1L453.9,285.8L455.9,287.2L457.7,289.0L459.5,290.6L461.4,291.6L463.7,291.9L466.0,291.9L468.4,292.0L470.6,292.6L472.4,293.9L473.8,295.8L475.1,297.7L476.6,299.4L478.2,300.5L480.2,301.1L482.2,301.5L484.1,301.9L485.8,302.6L487.1,303.6L488.1,304.8L488.8,306.2L489.2,307.7L489.6,309.1L490.0,310.5L490.5,311.7L491.1,312.7L491.9,313.6L492.8,314.5L493.8,315.3L494.8,316.3L495.7,317.3L496.4,318.4L496.9,319.6L497.1,320.8L497.0,322.1L496.7,323.4L496.2,324.7L495.6,326.0L495.0,327.2L494.5,328.5L494.2,329.8L494.2,331.1L494.4,332.6L494.8,334.0L495.1,335.5L495.3,337.0L495.3,338.4L495.1,339.7L494.6,340.8L493.8,341.9L492.9,343.0L491.9,343.9L490.9,344.8L489.9,345.7L489.2,346.7L488.6,347.8L488.2,349.0L487.9,350.3L487.7,351.7L487.3,353.2L486.9,354.6L486.2,355.9L485.2,357.0L484.0,357.8L482.6,358.5L481.0,359.0L479.5,359.4L478.0,360.0L476.7,360.7L475.6,361.8L474.6,363.3L473.7,364.8L472.7,366.4L471.6,367.7L470.3,368.7L468.9,369.3L467.4,369.6L465.8,369.8L464.3,369.9L462.9,370.1L461.7,370.4L460.5,370.9L459.5,371.7L458.6,372.6L457.8,373.6L457.1,374.6L456.4,375.6L455.6,376.5L454.7,377.3L453.8,377.9L452.9,378.3L451.9,378.5L450.9,378.7L449.9,378.8L448.9,378.9L448.0,379.1L447.1,379.4L447.2,380.6L446.8,381.2L446.6,381.8L446.3,382.4L446.1,383.0L446.0,383.7L445.9,384.3L445.7,384.9L445.6,385.6L445.4,386.2L445.2,386.8L445.0,387.3L444.8,387.9L444.6,388.4L444.5,388.9L444.3,389.5L444.1,390.1L443.9,390.8L443.7,391.5L443.5,392.4L443.3,393.3L443.1,394.3L442.9,395.3L442.7,396.4L442.6,397.5L442.3,398.7L442.1,400.0L441.8,401.5L441.4,403.1L441.0,404.9L440.5,406.9L439.9,409.1L439.2,411.5L438.5,414.1L437.8,416.7L437.0,419.4L436.2,422.1L435.5,424.8L434.8,427.4L434.2,429.8L433.6,432.2L433.0,434.7L432.5,437.2L431.9,439.7L431.4,442.1L430.9,444.4L430.4,446.6L429.9,448.6L429.5,450.4L429.2,452.0L428.9,453.3L428.7,454.3L428.5,455.2L428.3,455.9L428.2,456.4L428.1,456.8L428.0,457.2L427.9,457.4L427.9,457.7L427.8,458.0L421.6,458.0L421.7,457.7L421.7,457.4L421.8,457.2L421.9,456.8L422.0,456.4L422.1,455.9L422.3,455.2L422.5,454.3L422.7,453.3L423.0,452.0L423.3,450.4L423.8,448.6L424.2,446.6L424.7,444.4L425.2,442.1L425.7,439.7L426.3,437.2L426.9,434.7L427.4,432.2L428.0,429.8L428.6,427.3L429.3,424.7L430.0,422.0L430.7,419.2L431.4,416.4L432.1,413.7L432.7,411.1L433.3,408.8L433.8,406.7L434.2,404.9L434.5,403.5L434.6,402.3L434.7,401.5L434.8,400.8L434.7,400.2L434.7,399.8L434.6,399.4L434.5,399.0L434.5,398.6L434.4,398.0L434.4,397.4L434.4,396.8L434.4,396.2L434.3,395.7L434.3,395.2L434.2,394.6L434.1,394.1L434.0,393.5L433.8,393.0L433.5,392.4L433.1,391.8L432.7,391.2L432.3,390.6L431.7,390.0L431.2,389.3L430.6,388.7L429.9,388.1L429.3,387.4L428.7,386.8L428.0,386.2L427.3,385.6L426.6,384.9L425.8,384.3L425.1,383.7L424.3,383.0L423.5,382.4L422.7,381.8L421.9,381.2L421.2,380.6L420.5,380.0L419.9,379.4L419.3,378.9L418.9,378.4L417.5,378.7L417.0,378.4L416.4,378.0L416.0,377.6L415.4,377.1L414.9,376.5L414.1,375.8L413.3,374.8L412.2,373.7L411.0,372.6L409.7,371.8L408.1,371.3L406.4,371.2L404.6,371.4L402.8,371.7L401.1,372.0L399.6,371.9L398.2,371.5L397.0,370.8L395.8,369.9L394.7,368.9L393.6,367.9L392.5,367.0L391.2,366.3L389.9,365.9L388.5,365.8L387.0,366.0L385.4,366.3L383.7,366.6L382.1,366.8L380.6,366.6L379.1,366.1L377.7,365.2L376.3,364.1L375.0,363.0L373.7,362.2L372.4,361.6L371.0,361.3L369.6,361.3L368.2,361.6L366.8,361.9L365.4,362.1L364.0,362.3L362.6,362.2L361.3,361.7L360.1,360.9L359.0,359.9L357.9,358.5L356.8,357.2L355.7,356.0L354.3,355.1L352.8,354.5L351.0,354.2L349.1,354.0L347.2,353.7L345.6,353.1L344.2,352.2L343.1,350.9L342.0,349.3L341.0,347.6L339.9,346.1L338.6,345.0L337.1,344.2L335.4,343.8L333.6,343.4L332.0,342.9L330.6,342.3L329.5,341.4L328.6,340.3L328.1,339.2L327.7,337.9L327.5,336.7L327.4,335.5L327.2,334.4L327.1,333.3L326.8,332.3L326.4,331.4L325.8,330.6L325.2,329.7L324.4,328.7L323.7,327.6L323.0,326.5L322.4,325.4L322.1,324.4L321.9,323.5L321.8,322.8L321.8,322.2Z" fill="#f1ecb6" stroke="#777" stroke-width="1.2" stroke-linejoin="round"/>
<path d="M270.0,441.3C265.9,438.9 263.0,437.8 260.2,437.5C257.4,437.2 254.2,438.2 253.4,439.8C252.7,441.4 253.8,443.8 255.7,447.4C257.6,450.9 261.5,456.8 264.8,461.1C268.1,465.4 271.7,469.5 275.5,473.3C279.3,477.1 284.1,481.1 287.6,484.0C291.2,486.9 293.9,488.8 296.8,490.5C299.7,492.2 302.5,494.1 305.0,494.0C307.5,493.9 312.8,494.0 312.0,490.0C311.2,486.0 304.5,476.3 300.0,470.0C295.5,463.7 290.0,456.8 285.0,452.0C280.0,447.2 274.1,443.7 270.0,441.3Z" fill="#fff" stroke="#1a1a1a" stroke-width="1.0"/>
<path d="M319.6,478.9C320.8,479.4 324.1,480.9 327.0,482.0C329.9,483.1 331.4,484.1 337.3,485.4C343.2,486.7 353.9,488.6 362.2,489.8C370.5,491.1 377.5,491.6 387.1,492.9C396.7,494.1 411.2,495.6 420.0,497.3C428.8,499.0 433.5,500.9 439.6,503.0C445.7,505.1 450.7,507.6 456.8,509.6C462.9,511.6 471.3,513.3 476.5,514.9C481.7,516.5 486.1,518.3 488.0,519.0L488,527C485.0,527.1 476.0,527.6 470.0,527.5C464.0,527.4 458.2,526.6 452.0,526.5C445.8,526.4 438.3,527.3 433.0,526.8C427.7,526.3 424.5,524.6 420.0,523.6C415.5,522.6 411.3,522.2 405.8,520.9C400.3,519.6 394.4,518.1 387.1,515.9C379.8,513.7 370.5,510.5 362.2,507.8C353.9,505.1 345.0,502.1 337.3,499.8C329.6,497.5 319.7,495.1 316.2,494.2Z" fill="#d2d2d2"/>
<path d="M363.5,491.0L374.7,502.2L387.1,511.0L399.6,518.4L413.2,524.1L433.0,526.8L451.5,525.4L484.0,526.0L487.8,520.8L476.5,514.9L456.8,509.6L439.6,503.0L420.0,497.3L387.1,492.9Z" fill="#4b9d58"/>
<path d="M363.5,491.5C372,501 386,511.5 400,518.5" fill="none" stroke="#5f6f63" stroke-width="1.0"/>
<path d="M400,520.5C412,525.5 436,529 452,526.5" fill="none" stroke="#7dcc8a" stroke-width="2.2"/>
<path d="M316.2,494.2C319.7,495.1 329.6,497.5 337.3,499.8C345.0,502.1 353.9,505.1 362.2,507.8C370.5,510.5 379.8,513.7 387.1,515.9C394.4,518.1 400.3,519.6 405.8,520.9C411.3,522.2 415.5,522.6 420.0,523.6C424.5,524.6 427.7,526.3 433.0,526.8C438.3,527.3 445.8,526.4 452.0,526.5C458.2,526.6 464.0,527.4 470.0,527.5C476.0,527.6 485.0,527.1 488.0,527.0" fill="none" stroke="#1a1a1a" stroke-width="1.2"/>
<path d="M270.1,439.5L295.3,457.3L309.0,464.2L319.5,466.5L319.6,479.0L309.0,476.6L298.3,479.4L296.0,487.5L283.0,476.3L274.0,459.6L270.1,445.9Z" fill="#b9d7c9"/>
<path d="M309,464.2L319.5,466.5L319.6,480L309,476.6Z" fill="#c9e8cc"/>
<path d="M270.1,438.0C270.2,437.2 269.6,434.7 271.0,433.5C272.4,432.3 275.3,431.0 278.5,430.7C281.7,430.4 285.4,430.9 290.0,431.5C294.6,432.1 298.2,432.6 305.9,434.5C313.6,436.4 326.2,440.5 336.4,442.8C346.5,445.1 357.0,447.1 366.8,448.2C376.6,449.3 386.7,449.0 395.0,449.6C403.3,450.2 406.8,450.0 416.5,451.9C426.2,453.8 440.9,457.9 453.1,461.1C465.3,464.3 479.0,468.0 489.6,471.1C500.2,474.2 509.9,476.7 517.0,479.6C524.1,482.5 528.2,485.8 532.0,488.6C535.8,491.4 538.6,495.0 539.9,496.3C537.6,495.4 531.5,494.8 526.2,493.2C520.9,491.6 514.0,488.3 507.9,486.2C501.8,484.1 495.7,481.9 489.6,480.5C483.5,479.1 477.5,478.7 471.4,477.8C465.3,476.9 458.9,476.2 452.8,475.2C446.7,474.2 442.4,473.0 434.8,472.0C427.2,471.0 416.5,470.3 407.4,469.3C398.3,468.3 388.7,467.1 380.0,466.0C371.3,464.9 362.5,463.9 355.0,463.0C347.5,462.1 340.5,461.0 335.0,460.5C329.5,460.0 325.5,459.9 322.0,460.0C318.5,460.1 316.2,460.8 314.0,461.0C311.8,461.2 311.8,461.9 308.7,461.3C305.6,460.7 300.8,459.9 295.3,457.3C289.8,454.7 279.7,449.1 275.5,445.9C271.3,442.7 271.0,439.3 270.1,438.0Z" fill="#005a2b" stroke="#1a1a1a" stroke-width="2.0" stroke-linejoin="round"/>
<linearGradient id="lgg" x1="0" y1="0" x2="1" y2="0"><stop offset="0" stop-color="#cfeed2"/><stop offset="0.6" stop-color="#c4e8c8"/><stop offset="1" stop-color="#6fc27c"/></linearGradient>
<path d="M349.0,478.0L420.0,486.0L460.0,503.0L480.0,515.0L476.5,514.9L456.8,509.6L439.6,503.0L420.0,497.3L387.1,492.9L362.2,489.8L352.0,486.5Z" fill="url(#lgg)"/>
<path d="M306.2,449.3C309.3,449.8 317.6,450.8 324.9,452.4C332.2,454.0 341.5,456.7 349.8,458.7C358.1,460.7 366.4,462.6 374.7,464.3C383.0,466.0 392.1,467.7 399.6,468.6C407.2,469.5 414.1,469.2 420.0,469.8C425.9,470.4 429.3,471.0 434.8,472.0C440.3,473.0 446.7,474.7 452.8,475.9C458.9,477.1 465.8,477.5 471.3,479.2C476.8,480.9 481.2,483.2 485.8,485.8C490.4,488.4 495.3,491.8 499.0,495.0C502.7,498.2 506.0,501.9 508.2,505.0C510.4,508.1 512.0,511.5 512.2,513.6C512.4,515.7 509.9,516.9 509.5,517.5C508.0,517.8 503.6,519.3 500.3,519.5C497.0,519.7 492.8,519.3 489.7,518.8C486.6,518.2 484.9,517.5 481.8,516.2C478.7,514.9 474.6,512.7 471.3,510.9C468.0,509.1 464.9,507.1 462.0,505.6C459.1,504.1 457.2,502.7 454.1,501.7C451.0,500.7 446.7,500.5 443.6,499.7C440.5,498.9 438.2,498.4 435.6,497.1C433.0,495.8 430.3,493.5 427.7,491.8C425.1,490.1 422.2,488.0 419.8,487.2C417.4,486.4 415.2,486.5 413.2,487.2C411.2,487.9 409.2,491.1 407.9,491.3C406.6,491.5 406.6,489.5 405.3,488.5C404.0,487.5 401.6,485.8 400.0,485.2C398.4,484.6 397.6,484.3 395.9,484.8C394.2,485.3 391.3,488.5 389.6,488.2C387.9,487.9 389.4,484.1 385.9,483.0C382.4,481.9 374.5,482.5 368.5,481.7C362.5,480.9 354.4,479.4 349.8,478.0C345.2,476.6 344.1,474.7 341.1,473.0C338.1,471.3 334.7,469.3 332.0,467.8C329.3,466.3 327.1,464.9 324.9,464.2C322.7,463.5 320.7,464.0 318.7,463.8C316.7,463.6 314.7,463.4 313.0,463.0C311.3,462.6 309.4,461.5 308.7,461.2Z" fill="#27a93b"/>
<path d="M340.0,456.4L340.9,456.7L341.9,457.0L343.3,457.4L345.0,457.8L347.1,458.4L349.7,459.0L353.0,459.8L356.9,460.8L361.2,461.9L365.7,463.0L370.2,464.1L374.6,465.0L378.7,465.9L383.0,466.8L387.3,467.6L391.5,468.4L395.6,469.1L399.5,469.6L403.2,470.0L406.9,470.3L410.4,470.5L413.7,470.6L416.9,470.7L419.9,471.0L422.6,471.3L425.1,471.6L427.4,471.9L429.6,472.3L432.0,472.7L434.6,473.2L437.4,473.7L440.3,474.4L443.3,475.0L446.4,475.7L449.5,476.4L452.6,477.0L455.9,477.7L459.4,478.3L463.0,478.9L466.3,479.5L469.1,479.9L471.1,480.3L471.5,478.1L469.5,477.8L466.7,477.3L463.4,476.7L459.8,476.0L456.3,475.4L453.0,474.8L450.0,474.1L446.9,473.4L443.8,472.7L440.8,472.0L437.9,471.4L435.0,470.8L432.4,470.3L430.0,469.9L427.7,469.5L425.4,469.2L422.9,468.9L420.1,468.6L417.0,468.4L413.8,468.3L410.5,468.2L407.0,468.1L403.4,467.9L399.7,467.6L395.9,467.1L391.8,466.5L387.6,465.8L383.3,465.1L379.1,464.3L374.8,463.6L370.5,462.7L366.0,461.8L361.4,460.9L357.1,459.9L353.2,459.1L349.9,458.4L347.2,457.8L345.1,457.3L343.4,456.9L342.0,456.6L340.9,456.4L340.0,456.2Z" fill="#1a1a1a"/>
<path d="M471.3,479.2C473.7,480.3 481.2,483.2 485.8,485.8C490.4,488.4 495.3,491.8 499.0,495.0C502.7,498.2 506.0,501.9 508.2,505.0C510.4,508.1 512.0,511.5 512.2,513.6C512.4,515.7 511.5,516.5 509.5,517.5C507.5,518.5 503.6,519.3 500.3,519.5C497.0,519.7 492.8,519.3 489.7,518.8C486.6,518.2 484.9,517.5 481.8,516.2C478.7,514.9 474.6,512.7 471.3,510.9C468.0,509.1 463.6,506.5 462.0,505.6" fill="none" stroke="#1a1a1a" stroke-width="1.6" stroke-linecap="round"/>
<path d="M462.0,505.6C460.7,505.0 457.2,502.7 454.1,501.7C451.0,500.7 446.7,500.5 443.6,499.7C440.5,498.9 438.2,498.4 435.6,497.1C433.0,495.8 430.3,493.5 427.7,491.8C425.1,490.1 422.2,488.0 419.8,487.2C417.4,486.4 415.2,486.5 413.2,487.2C411.2,487.9 409.2,491.1 407.9,491.3C406.6,491.5 406.6,489.5 405.3,488.5C404.0,487.5 401.6,485.8 400.0,485.2C398.4,484.6 397.6,484.3 395.9,484.8C394.2,485.3 391.3,488.5 389.6,488.2C387.9,487.9 389.4,484.1 385.9,483.0C382.4,481.9 374.5,482.5 368.5,481.7C362.5,480.9 354.4,479.4 349.8,478.0C345.2,476.6 342.6,473.8 341.1,473.0" fill="none" stroke="#1a1a1a" stroke-width="1.1" stroke-linecap="round"/>
<path d="M341.1,473C335,469.5 329,465.5 324.9,463.9C321.5,462.8 319,462.9 318.9,465.6M308.7,461.3L319,464.2" fill="none" stroke="#1a1a1a" stroke-width="1.2" stroke-linecap="round"/>
<path d="M342.3,465.0L343.6,465.7L345.5,466.6L347.8,467.7L350.2,468.9L352.6,470.1L354.7,471.1L356.6,472.1L358.4,473.0L360.3,473.9L362.0,474.9L363.9,475.7L365.7,476.6L367.7,477.5L369.9,478.4L372.1,479.3L374.2,480.1L375.9,480.7L377.1,481.2L377.3,481.0L376.1,480.4L374.4,479.5L372.5,478.5L370.3,477.5L368.2,476.4L366.3,475.4L364.5,474.5L362.7,473.5L360.9,472.6L359.1,471.7L357.2,470.8L355.3,469.9L353.1,468.9L350.6,467.9L348.1,467.0L345.8,466.1L343.8,465.3L342.3,464.8Z" fill="#1a1a1a"/>
<path d="M336.1,478.1L337.4,478.4L339.1,478.7L341.3,479.2L343.5,479.6L345.8,480.0L347.9,480.3L350.1,480.5L352.3,480.7L354.6,480.9L356.7,481.0L358.5,481.1L359.8,481.2L359.8,481.0L358.5,480.8L356.8,480.5L354.7,480.2L352.4,479.9L350.2,479.6L348.1,479.3L346.0,479.0L343.7,478.7L341.4,478.5L339.2,478.2L337.4,478.0L336.1,477.9Z" fill="#1a1a1a"/>
<path d="M319.6,478.9C320.8,479.4 324.1,480.9 327.0,482.0C329.9,483.1 331.4,484.1 337.3,485.4C343.2,486.7 353.9,488.6 362.2,489.8C370.5,491.1 377.5,491.6 387.1,492.9C396.7,494.1 411.2,495.6 420.0,497.3C428.8,499.0 433.5,500.9 439.6,503.0C445.7,505.1 450.7,507.6 456.8,509.6C462.9,511.6 471.3,513.3 476.5,514.9C481.7,516.5 486.1,518.3 488.0,519.0" fill="none" stroke="#1a1a1a" stroke-width="2.4" stroke-linecap="round"/>
<path d="M319.6,479.2C315,477 311,476.3 309,476.3C302,476.3 296.8,480 296.8,485.5C296.8,491 302,495.4 309,495.4C313,495.4 316,494.6 317.2,493.2C320.6,489 321,483.5 319.6,479.2Z" fill="#27a93b"/>
<path d="M337.3,485.4C335.6,484.8 329.9,483.1 327.0,482.0C324.1,480.9 321.8,479.8 319.6,478.9C317.4,478.0 315.8,477.3 314.0,476.9C312.2,476.5 311.1,476.0 309.0,476.3C306.9,476.6 303.5,477.1 301.5,478.6C299.5,480.1 297.2,483.3 296.9,485.5C296.6,487.7 297.8,490.0 299.8,491.6C301.8,493.2 306.3,495.0 309.0,495.4C311.7,495.8 315.0,494.4 316.2,494.2" fill="none" stroke="#1a1a1a" stroke-width="2.3" stroke-linecap="round"/>
<path d="M264.7,452.8L265.8,454.3L267.4,456.4L269.2,458.8L271.2,461.5L273.1,464.0L274.9,466.2L276.5,468.2L278.1,470.1L279.7,471.9L281.2,473.6L282.7,475.2L284.2,476.7L285.7,478.1L287.2,479.4L288.6,480.6L290.0,481.6L291.1,482.5L291.9,483.1L292.1,482.9L291.3,482.2L290.3,481.2L289.1,480.0L287.8,478.7L286.4,477.3L285.0,475.9L283.7,474.3L282.3,472.7L280.8,470.9L279.3,469.0L277.7,467.1L276.1,465.2L274.2,463.1L272.1,460.7L270.0,458.2L267.9,455.9L266.1,454.0L264.9,452.6Z" fill="#1a1a1a"/>
<path d="M437.6,510.9L452.8,524.8L484.5,526.8L487.8,520.8Z" fill="#e8748b" stroke="#1a1a1a" stroke-width="0.9" stroke-linejoin="round"/>
<path d="M437.6,510.4L487.8,520.2L487.5,522.6L480.5,525.4L478.4,520.6L438.8,512.2Z" fill="#e9750e" stroke="#1a1a1a" stroke-width="0.6" stroke-linejoin="round"/>
<path d="M451.5,523.4C455,527.8 461,527.5 462.4,526.8L452.8,524.8Z" fill="#3b6fb0"/>
<ellipse cx="460.6" cy="520.4" rx="8.2" ry="3.1" fill="#e8748b" stroke="#1a1a1a" stroke-width="0.8" transform="rotate(9 460.6 520.4)"/>
<ellipse cx="461" cy="520.6" rx="5.2" ry="1.7" fill="#f3a35c" stroke="#1a1a1a" stroke-width="0.7" transform="rotate(9 461 520.6)"/>
<path d="M488.5,523.4C492,522 494.5,522.4 496.5,520.6C497.5,517.6 501,515.4 504.5,515.6C507,514.4 511,514.8 513,516.6C516,517 517.6,520 516.6,522.6C518,525.6 516,528.8 512.6,529C510.5,531 506,531 504,529.4C500.5,530 497.6,527.6 497.4,525.2C494.5,525.4 491,524.6 488.5,523.4Z" fill="#3b6fb0"/>
<ellipse cx="411.2" cy="503.3" rx="5.6" ry="2" fill="#f1ec9c" stroke="#5a5a3a" stroke-width="0.6" transform="rotate(8 411.2 503.3)"/>
<path d="M418.5,503.5l2,1.4l-1.4,1.8M420.8,503l1.2,1.6" fill="none" stroke="#d91f26" stroke-width="1.3" stroke-linecap="round"/>
<path d="M459.4,527.6L491,532.4M470,528L496,534.5" fill="none" stroke="#777" stroke-width="0.7"/>
<path d="M300.0,491.2C301.2,492.0 304.4,494.3 307.5,496.2C310.6,498.1 314.8,500.6 318.7,502.4C322.6,504.2 327.8,505.4 331.1,506.8C334.4,508.2 336.5,508.9 338.6,510.5C340.7,512.0 341.7,513.9 343.6,516.1C345.5,518.3 347.7,521.6 349.8,523.6C351.9,525.6 353.5,526.9 356.0,527.9C358.5,528.9 361.8,529.7 364.7,529.8C367.6,529.9 371.2,528.8 373.4,528.5C375.6,528.2 377.2,527.5 377.8,527.9C378.4,528.3 376.7,530.0 377.2,531.0C377.7,532.0 379.2,533.8 380.9,534.2C382.5,534.6 385.2,533.8 387.1,533.5C389.0,533.2 390.9,532.0 392.1,532.3C393.4,532.6 393.6,534.1 394.6,535.4C395.6,536.6 396.4,538.9 398.3,539.8C400.2,540.7 403.5,541.1 405.8,540.8C408.1,540.5 410.2,539.0 412.0,538.2C413.8,537.4 415.4,536.5 416.5,536.2C417.6,535.9 418.1,535.5 418.6,536.4C419.2,537.2 418.5,539.9 419.8,541.3C421.1,542.7 424.0,544.3 426.4,544.6C428.8,544.9 431.4,544.2 434.3,543.2C437.2,542.2 440.5,539.5 443.6,538.6C446.7,537.7 449.5,537.5 452.8,538.0C456.1,538.5 459.8,541.0 463.3,541.3C466.8,541.6 470.1,540.9 473.9,540.0C477.6,539.1 481.8,536.8 485.8,536.0C489.8,535.2 495.7,535.4 497.7,535.3" fill="none" stroke="#1a1a1a" stroke-width="1.7" stroke-linecap="round"/>
<path d="M624.9,112.3L624.9,40.7L635.7,27.2" fill="none" stroke="#fff" stroke-width="1.0" opacity="0.75" transform="translate(0.3,1.1)"/>
<path d="M624.9,112.3L624.9,40.7L635.7,27.2" fill="none" stroke="#2e2e2e" stroke-width="1.35" stroke-linejoin="miter"/>
<circle cx="624.9" cy="112.3" r="2.45" fill="#1a1a1a"/>
<path d="M713.2,133.5L713.2,78.5L724.1,65.2" fill="none" stroke="#fff" stroke-width="1.0" opacity="0.75" transform="translate(0.3,1.1)"/>
<path d="M713.2,133.5L713.2,78.5L724.1,65.2" fill="none" stroke="#2e2e2e" stroke-width="1.35" stroke-linejoin="miter"/>
<circle cx="713.2" cy="133.5" r="2.45" fill="#1a1a1a"/>
<path d="M716.0,190.8L752.3,190.8" fill="none" stroke="#fff" stroke-width="1.0" opacity="0.75" transform="translate(0.3,1.1)"/>
<path d="M716.0,190.8L752.3,190.8" fill="none" stroke="#2e2e2e" stroke-width="1.35" stroke-linejoin="miter"/>
<circle cx="716.0" cy="190.8" r="2.45" fill="#1a1a1a"/>
<path d="M503.0,227.5L569.9,264.2L636.2,264.2" fill="none" stroke="#fff" stroke-width="1.0" opacity="0.75" transform="translate(0.3,1.1)"/>
<path d="M503.0,227.5L569.9,264.2L636.2,264.2" fill="none" stroke="#2e2e2e" stroke-width="1.35" stroke-linejoin="miter"/>
<circle cx="503.0" cy="227.5" r="2.45" fill="#1a1a1a"/>
<path d="M499.4,381.4L564.5,400.8" fill="none" stroke="#fff" stroke-width="1.0" opacity="0.75" transform="translate(0.3,1.1)"/>
<path d="M499.4,381.4L564.5,400.8" fill="none" stroke="#2e2e2e" stroke-width="1.35" stroke-linejoin="miter"/>
<circle cx="499.4" cy="381.4" r="2.45" fill="#1a1a1a"/>
<path d="M436.6,411.8L564.5,434.9" fill="none" stroke="#fff" stroke-width="1.0" opacity="0.75" transform="translate(0.3,1.1)"/>
<path d="M436.6,411.8L564.5,434.9" fill="none" stroke="#2e2e2e" stroke-width="1.35" stroke-linejoin="miter"/>
<circle cx="436.6" cy="411.8" r="2.45" fill="#1a1a1a"/>
<path d="M479.4,474.0L564.5,470.9" fill="none" stroke="#fff" stroke-width="1.0" opacity="0.75" transform="translate(0.3,1.1)"/>
<path d="M479.4,474.0L564.5,470.9" fill="none" stroke="#2e2e2e" stroke-width="1.35" stroke-linejoin="miter"/>
<circle cx="479.4" cy="474.0" r="2.45" fill="#1a1a1a"/>
<path d="M508.5,523.8L564.5,506.3" fill="none" stroke="#fff" stroke-width="1.0" opacity="0.75" transform="translate(0.3,1.1)"/>
<path d="M508.5,523.8L564.5,506.3" fill="none" stroke="#2e2e2e" stroke-width="1.35" stroke-linejoin="miter"/>
<circle cx="508.5" cy="523.8" r="2.45" fill="#1a1a1a"/>
<path d="M484.9,503.9L497.0,554.9L564.5,554.9" fill="none" stroke="#fff" stroke-width="1.0" opacity="0.75" transform="translate(0.3,1.1)"/>
<path d="M484.9,503.9L497.0,554.9L564.5,554.9" fill="none" stroke="#2e2e2e" stroke-width="1.35" stroke-linejoin="miter"/>
<circle cx="484.9" cy="503.9" r="2.45" fill="#1a1a1a"/>
<path d="M478.8,527.4L497.0,589.0L564.5,589.0" fill="none" stroke="#fff" stroke-width="1.0" opacity="0.75" transform="translate(0.3,1.1)"/>
<path d="M478.8,527.4L497.0,589.0L564.5,589.0" fill="none" stroke="#2e2e2e" stroke-width="1.35" stroke-linejoin="miter"/>
<circle cx="478.8" cy="527.4" r="2.45" fill="#1a1a1a"/>
<path d="M462.0,523.2L497.0,623.3L564.5,623.3" fill="none" stroke="#fff" stroke-width="1.0" opacity="0.75" transform="translate(0.3,1.1)"/>
<path d="M462.0,523.2L497.0,623.3L564.5,623.3" fill="none" stroke="#2e2e2e" stroke-width="1.35" stroke-linejoin="miter"/>
<circle cx="462.0" cy="523.2" r="2.45" fill="#1a1a1a"/>
<path d="M422.7,508.3L462.0,659.4L502.3,659.4" fill="none" stroke="#fff" stroke-width="1.0" opacity="0.75" transform="translate(0.3,1.1)"/>
<path d="M422.7,508.3L462.0,659.4L502.3,659.4" fill="none" stroke="#2e2e2e" stroke-width="1.35" stroke-linejoin="miter"/>
<circle cx="422.7" cy="508.3" r="2.45" fill="#1a1a1a"/>
<path d="M409.9,510.2L422.5,696.0L450.8,696.0" fill="none" stroke="#fff" stroke-width="1.0" opacity="0.75" transform="translate(0.3,1.1)"/>
<path d="M409.9,510.2L422.5,696.0L450.8,696.0" fill="none" stroke="#2e2e2e" stroke-width="1.35" stroke-linejoin="miter"/>
<circle cx="409.9" cy="510.2" r="2.45" fill="#1a1a1a"/>
<path d="M339.8,178.1L291.3,176.9" fill="none" stroke="#fff" stroke-width="1.0" opacity="0.75" transform="translate(0.3,1.1)"/>
<path d="M339.8,178.1L291.3,176.9" fill="none" stroke="#2e2e2e" stroke-width="1.35" stroke-linejoin="miter"/>
<circle cx="339.8" cy="178.1" r="2.45" fill="#1a1a1a"/>
<path d="M348.0,209.7L291.3,242.1" fill="none" stroke="#fff" stroke-width="1.0" opacity="0.75" transform="translate(0.3,1.1)"/>
<path d="M348.0,209.7L291.3,242.1" fill="none" stroke="#2e2e2e" stroke-width="1.35" stroke-linejoin="miter"/>
<circle cx="348.0" cy="209.7" r="2.45" fill="#1a1a1a"/>
<path d="M388.8,327.0L291.3,300.1" fill="none" stroke="#fff" stroke-width="1.0" opacity="0.75" transform="translate(0.3,1.1)"/>
<path d="M388.8,327.0L291.3,300.1" fill="none" stroke="#2e2e2e" stroke-width="1.35" stroke-linejoin="miter"/>
<circle cx="388.8" cy="327.0" r="2.45" fill="#1a1a1a"/>
<path d="M288.2,467.4L249.3,484.2L214.2,484.2" fill="none" stroke="#fff" stroke-width="1.0" opacity="0.75" transform="translate(0.3,1.1)"/>
<path d="M288.2,467.4L249.3,484.2L214.2,484.2" fill="none" stroke="#2e2e2e" stroke-width="1.35" stroke-linejoin="miter"/>
<circle cx="288.2" cy="467.4" r="2.45" fill="#1a1a1a"/>
<path d="M307.3,486.5L307.7,545.1L279.7,545.1" fill="none" stroke="#fff" stroke-width="1.0" opacity="0.75" transform="translate(0.3,1.1)"/>
<path d="M307.3,486.5L307.7,545.1L279.7,545.1" fill="none" stroke="#2e2e2e" stroke-width="1.35" stroke-linejoin="miter"/>
<circle cx="307.3" cy="486.5" r="2.45" fill="#1a1a1a"/>
<path d="M333.4,521.5L333.6,587.1L279.7,587.1" fill="none" stroke="#fff" stroke-width="1.0" opacity="0.75" transform="translate(0.3,1.1)"/>
<path d="M333.4,521.5L333.6,587.1L279.7,587.1" fill="none" stroke="#2e2e2e" stroke-width="1.35" stroke-linejoin="miter"/>
<circle cx="333.4" cy="521.5" r="2.45" fill="#1a1a1a"/>
<path d="M356.7,521.0L356.8,628.9L279.7,628.9" fill="none" stroke="#fff" stroke-width="1.0" opacity="0.75" transform="translate(0.3,1.1)"/>
<path d="M356.7,521.0L356.8,628.9L279.7,628.9" fill="none" stroke="#2e2e2e" stroke-width="1.35" stroke-linejoin="miter"/>
<circle cx="356.7" cy="521.0" r="2.45" fill="#1a1a1a"/>
<g>
<text x="639.3" y="32.2" font-family="'DejaVu Sans', sans-serif" font-size="16.8" fill="#111" textLength="126.2" lengthAdjust="spacingAndGlyphs">trompe utérine</text>
<text x="732.3" y="72.1" font-family="'Liberation Sans', sans-serif" font-size="17.3" fill="#303030" textLength="162.0" lengthAdjust="spacingAndGlyphs">pavillon de la trompe</text>
<text x="761.4" y="195.0" font-family="'Liberation Sans', sans-serif" font-size="17.3" fill="#303030" textLength="46.6" lengthAdjust="spacingAndGlyphs">ovaire</text>
<text x="643.0" y="267.9" font-family="'Liberation Sans', sans-serif" font-size="17.3" fill="#303030" textLength="107.8" lengthAdjust="spacingAndGlyphs">col de l’utérus</text>
<text x="576.2" y="405.2" font-family="'Liberation Sans', sans-serif" font-size="17.3" fill="#303030" textLength="40.2" lengthAdjust="spacingAndGlyphs">vagin</text>
<text x="576.5" y="440.2" font-family="'Liberation Sans', sans-serif" font-size="17.3" fill="#303030" textLength="45.3" lengthAdjust="spacingAndGlyphs">urètre</text>
<text x="576.1" y="475.3" font-family="'Liberation Sans', sans-serif" font-size="17.3" fill="#303030" textLength="257.0" lengthAdjust="spacingAndGlyphs">pilier du clitoris (corps caverneux)</text>
<text x="576.0" y="510.4" font-family="'Liberation Sans', sans-serif" font-size="17.3" fill="#303030" textLength="213.0" lengthAdjust="spacingAndGlyphs">glande vestibulaire majeure</text>
<text x="576.4" y="532.1" font-family="'Liberation Sans', sans-serif" font-size="17.3" fill="#303030" textLength="81.3" lengthAdjust="spacingAndGlyphs">(Bartholin)</text>
<text x="576.3" y="557.8" font-family="'Liberation Sans', sans-serif" font-size="17.3" fill="#303030" textLength="261.9" lengthAdjust="spacingAndGlyphs">bulbe du clitoris (corps spongieux)</text>
<text x="576.4" y="593.1" font-family="'Liberation Sans', sans-serif" font-size="17.3" fill="#303030" textLength="51.4" lengthAdjust="spacingAndGlyphs">hymen</text>
<text x="576.1" y="628.4" font-family="'Liberation Sans', sans-serif" font-size="17.3" fill="#303030" textLength="105.8" lengthAdjust="spacingAndGlyphs">orifice vaginal</text>
<text x="520.6" y="664.6" font-family="'Liberation Sans', sans-serif" font-size="17.3" fill="#303030" textLength="212.0" lengthAdjust="spacingAndGlyphs">glande paraurétrale (Skene)</text>
<text x="465.8" y="699.3" font-family="'Liberation Sans', sans-serif" font-size="17.3" fill="#303030" textLength="110.4" lengthAdjust="spacingAndGlyphs">orifice urinaire</text>
<text x="230.5" y="184.0" font-family="'Liberation Sans', sans-serif" font-size="17.3" fill="#303030" textLength="48.2" lengthAdjust="spacingAndGlyphs">utérus</text>
<text x="198.9" y="245.0" font-family="'Liberation Sans', sans-serif" font-size="17.3" fill="#303030" textLength="84.1" lengthAdjust="spacingAndGlyphs">endomètre</text>
<text x="232.8" y="305.5" font-family="'Liberation Sans', sans-serif" font-size="17.3" fill="#303030" textLength="45.5" lengthAdjust="spacingAndGlyphs">vessie</text>
<text x="132.3" y="477.0" font-family="'Liberation Sans', sans-serif" font-size="17.3" fill="#303030" textLength="75.6" lengthAdjust="spacingAndGlyphs">capuchon</text>
<text x="132.6" y="499.1" font-family="'Liberation Sans', sans-serif" font-size="17.3" fill="#303030" textLength="73.1" lengthAdjust="spacingAndGlyphs">(prépuce)</text>
<text x="147.7" y="550.7" font-family="'Liberation Sans', sans-serif" font-size="17.3" fill="#303030" textLength="123.4" lengthAdjust="spacingAndGlyphs">gland du clitoris</text>
<text x="174.8" y="591.8" font-family="'Liberation Sans', sans-serif" font-size="17.3" fill="#303030" textLength="95.7" lengthAdjust="spacingAndGlyphs">grande lèvre</text>
<text x="184.3" y="632.9" font-family="'Liberation Sans', sans-serif" font-size="17.3" fill="#303030" textLength="86.7" lengthAdjust="spacingAndGlyphs">petite lèvre</text>
</g>
</svg></div></body></html>
